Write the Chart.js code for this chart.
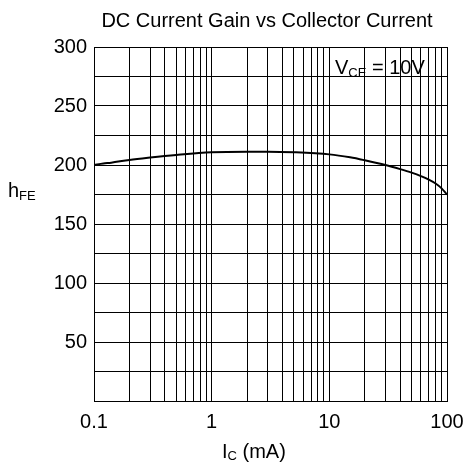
<!DOCTYPE html>
<html>
<head>
<meta charset="utf-8">
<script src="https://cdn.jsdelivr.net/npm/chart.js@4/dist/chart.umd.min.js"></script>
<style>
  html, body { margin: 0; padding: 0; background: #fff; }
  #wrap { width: 466px; height: 467px; }
</style>
</head>
<body>
<div id="wrap"><canvas id="gain"></canvas></div>
<script>
'use strict';
// collector current (mA) and DC current gain
var currentMA = [0.1, 0.12, 0.14, 0.2, 0.3, 0.5, 1, 2, 3, 5, 10, 15, 20, 30, 40, 50, 60, 70, 80, 90, 100];
var gainHFE = [200, 201.2, 202, 204.3, 206.3, 208.5, 210.8, 211.3, 211.3, 210.8, 209, 206.5, 204, 200, 196.5, 193.5, 190.6, 187.6, 184.3, 180.2, 175];

// log grid lines on the current axis, labels only on decades
var xGridTicks = [0.1, 0.2, 0.3, 0.4, 0.5, 0.6, 0.7, 0.8, 0.9,
	1, 2, 3, 4, 5, 6, 7, 8, 9,
	10, 20, 30, 40, 50, 60, 70, 80, 90, 100];
var xTickLabels = [0.1, 1, 10, 100];
var yTickLabels = [50, 100, 150, 200, 250, 300];

var chartTitle = 'DC Current Gain vs Collector Current';
var FONT = '"Liberation Sans", Arial, sans-serif';

function drawPieces(ctx, x, y, pieces) {
	ctx.textAlign = 'left';
	pieces.forEach(function (p) {
		ctx.font = p[1] + 'px ' + FONT;
		ctx.fillText(p[0], x, y + p[2]);
		x += ctx.measureText(p[0]).width;
	});
}

var textPlugin = {
	id: 'texts',
	afterDraw: function (chart) {
		var ctx = chart.ctx;
		ctx.save();
		ctx.fillStyle = '#000';
		ctx.textBaseline = 'alphabetic';
		ctx.font = '20px ' + FONT;
		ctx.textAlign = 'center';
		ctx.fillText(chartTitle, 267, 27);
		drawPieces(ctx, 8, 197, [['h', 20, 0], ['FE', 13, 3]]);
		drawPieces(ctx, 222, 458, [['I', 20, 0], ['C', 13, 2], [' (mA)', 20, 0]]);
		drawPieces(ctx, 335, 74, [['V', 20, 0], ['CE', 13, 3], [' = 10V', 20, 0]]);
		ctx.restore();
	}
};

var ctx = document.getElementById('gain');
new Chart(ctx, {
	type: 'line',
	data: {
		datasets: [{
			data: currentMA.map(function (v, i) { return { x: v, y: gainHFE[i] }; }),
			borderColor: '#000',
			borderWidth: 2,
			pointRadius: 0,
			fill: false,
			cubicInterpolationMode: 'monotone'
		}]
	},
	options: {
		responsive: true,
		maintainAspectRatio: false,
		animation: false,
		layout: { padding: { left: 0, right: 19, top: 47, bottom: 0 } },
		plugins: {
			legend: { display: false },
			title: { display: false },
			tooltip: { enabled: false }
		},
		scales: {
			x: {
				type: 'logarithmic',
				min: 0.1,
				max: 100,
				afterBuildTicks: function (s) {
					s.ticks = xGridTicks.map(function (v) { return { value: v }; });
				},
				afterFit: function (s) {
					s.height = 66;
					s.paddingLeft = 0;
					s.paddingRight = 0;
				},
				grid: { color: '#000', lineWidth: 1, drawTicks: false },
				border: { color: '#000', width: 1 },
				ticks: {
					color: '#000',
					padding: 9,
					maxRotation: 0,
					autoSkip: false,
					font: { family: FONT, size: 20 },
					callback: function (v) {
						return xTickLabels.indexOf(v) >= 0 ? String(v) : '';
					}
				}
			},
			y: {
				min: 0,
				max: 300,
				afterFit: function (s) {
					s.width = 94;
					s.paddingTop = 0;
					s.paddingBottom = 0;
				},
				grid: { color: '#000', lineWidth: 1, drawTicks: false },
				border: { color: '#000', width: 1 },
				ticks: {
					stepSize: 25,
					color: '#000',
					padding: 7,
					font: { family: FONT, size: 20 },
					callback: function (v) {
						return yTickLabels.indexOf(v) >= 0 ? String(v) : '';
					}
				}
			}
		}
	},
	plugins: [textPlugin]
});
</script>
</body>
</html>
